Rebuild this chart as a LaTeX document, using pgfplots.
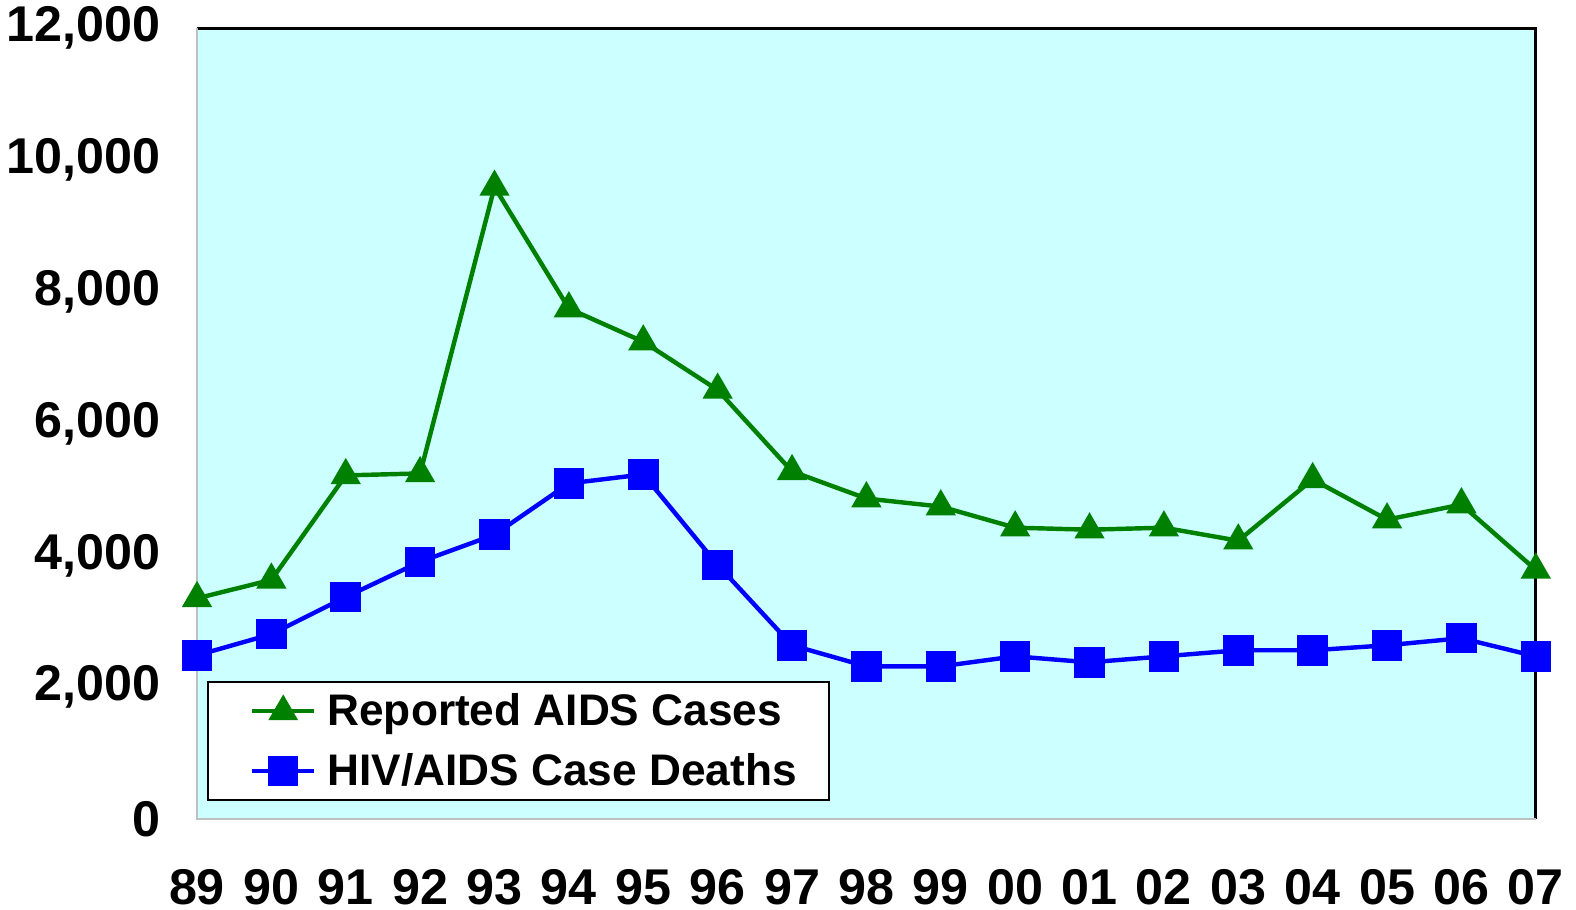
\documentclass[border=0pt]{standalone}
\usepackage{pgfplots}
\pgfplotsset{compat=1.18}
\usepackage{fontspec}
\setmainfont{Liberation Sans}
\definecolor{bgc}{HTML}{CCFFFF}
\definecolor{grn}{HTML}{008000}
\definecolor{blu}{HTML}{0000FF}
\begin{document}
\begin{tikzpicture}
\useasboundingbox (-98pt,-45pt) rectangle (686pt,407.5pt);
\begin{axis}[
  at={(0pt,0pt)}, anchor=south west,
  scale only axis, width=666pt, height=393.5pt,
  xmin=0, xmax=18, ymin=0, ymax=12000,
  clip=false,
  scaled y ticks=false,
  axis background/.style={fill=bgc},
  axis line style={draw=none},
  major tick length=0pt,
  xtick={0,...,18},
  xticklabels={89,90,91,92,93,94,95,96,97,98,99,00,01,02,03,04,05,06,07},
  ytick={0,2000,4000,6000,8000,10000,12000},
  yticklabels={0,{2,000},{4,000},{6,000},{8,000},{10,000},{12,000}},
  xticklabel style={font=\fontsize{25}{25}\selectfont\bfseries, anchor=north, inner sep=0pt, yshift=-25pt},
  yticklabel style={font=\fontsize{25}{25}\selectfont\bfseries, anchor=east, inner sep=0pt, xshift=-18pt},
  legend style={at={(rel axis cs:0.0075,0.0229)}, anchor=south west, draw=black, line width=0.8pt,
    font=\fontsize{22}{22}\selectfont\bfseries, row sep=8pt, inner xsep=14pt, inner ysep=4pt,
    legend cell align=left},
  legend image code/.code={%
    \path[draw=none,fill=none] (0pt,0pt) -- (43.5pt,0pt);
    \draw[#1, line width=2pt] (8pt,0pt) -- (39pt,0pt);
    \draw[#1, line width=2pt] plot coordinates {(23.5pt,0pt)};},
]
\addplot[grn, line width=2.2pt, mark=triangle*, mark size=6.5pt, mark options={solid}] coordinates {
(0,3350) (1,3630) (2,5215) (3,5245) (4,9590) (5,7746) (6,7243) (7,6511) (8,5276) (9,4864)
(10,4742) (11,4422) (12,4391) (13,4422) (14,4224) (15,5154) (16,4544) (17,4773) (18,3782)};
\addlegendentry{Reported AIDS Cases}
\addplot[blu, line width=2.2pt, mark=square*, mark size=6.5pt, mark options={solid}] coordinates {
(0,2485) (1,2806) (2,3370) (3,3904) (4,4315) (5,5093) (6,5230) (7,3858) (8,2638) (9,2318)
(10,2318) (11,2470) (12,2379) (13,2470) (14,2562) (15,2562) (16,2638) (17,2745) (18,2470)};
\addlegendentry{HIV/AIDS Case Deaths}
\draw[black, line width=1.5pt] (rel axis cs:0,1) -- (rel axis cs:1,1) -- (rel axis cs:1,0);
\draw[gray!50, line width=0.8pt] (rel axis cs:0,1) -- (rel axis cs:0,0) -- (rel axis cs:1,0);
\end{axis}
\end{tikzpicture}
\end{document}
